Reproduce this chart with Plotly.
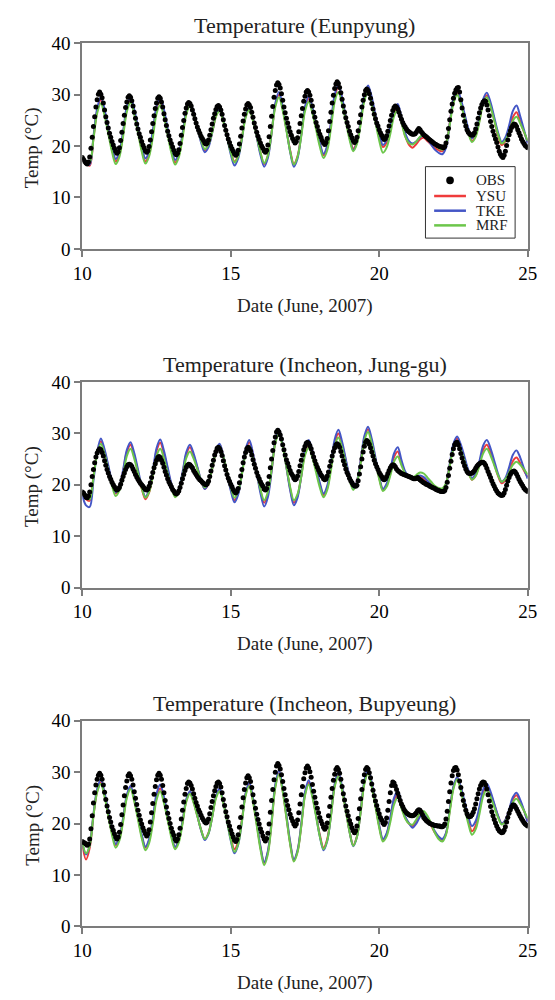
import numpy as np
import plotly.graph_objects as go

FONT = "Liberation Serif, Times New Roman, serif"

# ---------------------------------------------------------------------------
# Data: near-surface air temperature, 10-25 June 2007
# OBS  : hourly station observations (10 June 00h ... 25 June 00h)
# YSU / TKE / MRF : WRF PBL-scheme runs, 3-hourly output
# ---------------------------------------------------------------------------
stations = ["Eunpyung", "Incheon, Jung-gu", "Incheon, Bupyeung"]
schemes = ["YSU", "TKE", "MRF"]
x_ticks = [10, 15, 20, 25]
y_ticks = [0, 10, 20, 30, 40]

obs_eunpyung = [
    17.8, 17.4, 17.0, 16.7, 16.5, 16.9, 17.9, 19.6, 21.7, 23.8, 25.7, 27.6, 29.0, 30.1, 30.5, 30.1, 29.4, 28.4, 27.0, 25.7, 24.6, 23.5, 22.5, 21.7,
    20.9, 20.2, 19.6, 19.0, 18.6, 18.9, 19.7, 21.1, 22.7, 24.4, 26.0, 27.5, 28.6, 29.5, 29.8, 29.5, 28.8, 27.8, 26.6, 25.4, 24.3, 23.3, 22.4, 21.7,
    20.9, 20.2, 19.7, 19.1, 18.8, 19.1, 19.9, 21.2, 22.8, 24.4, 25.9, 27.3, 28.4, 29.3, 29.6, 29.3, 28.6, 27.6, 26.3, 25.1, 24.0, 22.9, 22.0, 21.2,
    20.5, 19.8, 19.2, 18.6, 18.3, 18.6, 19.3, 20.5, 22.1, 23.6, 25.0, 26.4, 27.4, 28.2, 28.5, 28.3, 27.8, 27.0, 26.2, 25.3, 24.5, 23.7, 23.1, 22.5,
    21.9, 21.5, 21.1, 20.6, 20.4, 20.6, 21.2, 22.1, 23.2, 24.3, 25.4, 26.3, 27.1, 27.7, 27.9, 27.6, 27.0, 26.2, 25.1, 24.0, 23.1, 22.2, 21.4, 20.7,
    20.0, 19.5, 19.0, 18.5, 18.2, 18.5, 19.2, 20.4, 21.9, 23.5, 24.9, 26.2, 27.2, 28.0, 28.3, 28.0, 27.5, 26.6, 25.6, 24.5, 23.6, 22.7, 21.9, 21.3,
    20.6, 20.0, 19.6, 19.1, 18.8, 19.2, 20.2, 21.8, 23.8, 25.8, 27.7, 29.5, 30.8, 31.9, 32.3, 32.0, 31.3, 30.2, 28.9, 27.6, 26.5, 25.4, 24.5, 23.6,
    22.8, 22.1, 21.5, 21.0, 20.6, 20.9, 21.6, 22.8, 24.4, 25.9, 27.3, 28.7, 29.7, 30.5, 30.8, 30.5, 29.9, 28.9, 27.8, 26.6, 25.6, 24.6, 23.8, 23.0,
    22.3, 21.7, 21.1, 20.6, 20.3, 20.7, 21.5, 23.0, 24.8, 26.6, 28.4, 29.9, 31.2, 32.1, 32.5, 32.2, 31.4, 30.4, 29.1, 27.8, 26.6, 25.5, 24.6, 23.8,
    22.9, 22.2, 21.6, 21.1, 20.7, 21.0, 21.7, 23.0, 24.6, 26.1, 27.6, 28.9, 30.0, 30.8, 31.1, 30.8, 30.2, 29.3, 28.3, 27.2, 26.2, 25.3, 24.5, 23.9,
    23.2, 22.6, 22.1, 21.6, 21.3, 21.5, 22.0, 22.9, 23.9, 25.0, 26.0, 26.9, 27.5, 27.8, 27.6, 27.2, 26.6, 25.9, 25.2, 24.6, 24.1, 23.7, 23.3, 23.0,
    22.8, 22.6, 22.4, 22.3, 22.3, 22.4, 22.7, 23.1, 23.4, 23.2, 22.8, 22.5, 22.2, 22.0, 21.8, 21.6, 21.4, 21.2, 21.0, 20.8, 20.6, 20.4, 20.3, 20.1,
    20.0, 19.9, 19.8, 19.8, 19.7, 19.9, 20.6, 21.8, 23.4, 25.1, 26.8, 28.2, 29.3, 30.3, 30.9, 31.3, 31.4, 30.5, 29.0, 27.4, 26.0, 24.8, 23.9, 23.2,
    22.7, 22.4, 22.2, 22.1, 22.2, 22.6, 23.3, 24.3, 25.4, 26.5, 27.4, 28.1, 28.6, 28.8, 28.7, 28.0, 27.0, 25.9, 24.8, 23.8, 22.9, 22.1, 21.4, 20.7,
    19.8, 19.0, 18.4, 18.0, 17.8, 18.2, 19.0, 20.1, 21.2, 22.2, 23.0, 23.6, 24.0, 24.3, 24.2, 23.8, 23.2, 22.6, 22.0, 21.4, 20.9, 20.5, 20.1, 19.9,
    19.7,
]

obs_junggu = [
    18.6, 18.4, 18.0, 17.6, 17.5, 17.8, 18.6, 20.0, 21.6, 23.0, 24.3, 25.4, 26.2, 26.7, 27.0, 26.8, 26.3, 25.6, 24.7, 23.8, 23.0, 22.3, 21.6, 21.1,
    20.5, 20.0, 19.6, 19.2, 19.0, 19.2, 19.5, 20.1, 20.9, 21.6, 22.3, 23.0, 23.5, 23.9, 24.0, 23.9, 23.6, 23.1, 22.6, 22.0, 21.5, 21.1, 20.7, 20.3,
    20.0, 19.7, 19.4, 19.1, 19.0, 19.2, 19.7, 20.4, 21.4, 22.4, 23.3, 24.1, 24.8, 25.3, 25.5, 25.3, 24.8, 24.2, 23.4, 22.6, 21.9, 21.2, 20.6, 20.1,
    19.6, 19.1, 18.8, 18.4, 18.2, 18.4, 18.8, 19.5, 20.3, 21.2, 22.0, 22.8, 23.4, 23.8, 24.0, 23.9, 23.6, 23.3, 22.8, 22.4, 22.0, 21.6, 21.3, 21.0,
    20.8, 20.5, 20.3, 20.1, 20.0, 20.2, 20.7, 21.6, 22.7, 23.8, 24.8, 25.8, 26.5, 27.1, 27.3, 27.0, 26.5, 25.7, 24.7, 23.7, 22.9, 22.0, 21.3, 20.7,
    20.1, 19.6, 19.1, 18.7, 18.4, 18.7, 19.3, 20.4, 21.7, 23.0, 24.3, 25.4, 26.3, 27.0, 27.3, 27.0, 26.6, 25.8, 24.9, 24.0, 23.2, 22.4, 21.7, 21.2,
    20.6, 20.1, 19.7, 19.2, 19.0, 19.3, 20.2, 21.6, 23.3, 25.0, 26.7, 28.2, 29.3, 30.3, 30.6, 30.3, 29.7, 28.9, 27.8, 26.8, 25.8, 24.9, 24.2, 23.5,
    22.8, 22.2, 21.8, 21.3, 21.0, 21.2, 21.7, 22.6, 23.7, 24.8, 25.8, 26.8, 27.5, 28.1, 28.3, 28.1, 27.6, 27.0, 26.2, 25.4, 24.7, 24.0, 23.4, 22.9,
    22.4, 21.9, 21.6, 21.2, 21.0, 21.2, 21.7, 22.5, 23.6, 24.6, 25.6, 26.5, 27.2, 27.8, 28.0, 27.8, 27.3, 26.5, 25.6, 24.7, 23.9, 23.1, 22.4, 21.9,
    21.3, 20.8, 20.4, 20.0, 19.8, 19.7, 19.9, 20.8, 22.1, 23.5, 25.0, 26.4, 27.5, 28.3, 28.6, 28.4, 27.9, 27.2, 26.4, 25.6, 24.8, 24.1, 23.5, 23.0,
    22.4, 22.0, 21.6, 21.2, 21.0, 21.2, 21.6, 22.2, 22.8, 23.3, 23.7, 23.9, 23.8, 23.5, 23.1, 22.8, 22.6, 22.4, 22.2, 22.1, 22.0, 21.9, 21.8, 21.7,
    21.6, 21.5, 21.4, 21.3, 21.2, 21.2, 21.3, 21.4, 21.2, 21.0, 20.8, 20.6, 20.4, 20.3, 20.1, 20.0, 19.9, 19.7, 19.6, 19.5, 19.4, 19.3, 19.1, 19.0,
    18.9, 18.8, 18.7, 18.7, 18.7, 18.9, 19.5, 20.5, 21.8, 23.2, 24.6, 25.9, 27.0, 27.8, 28.2, 28.3, 27.8, 27.0, 26.1, 25.2, 24.4, 23.7, 23.1, 22.6,
    22.3, 22.2, 22.2, 22.3, 22.5, 22.8, 23.2, 23.6, 23.9, 24.1, 24.3, 24.4, 24.4, 24.2, 23.8, 23.2, 22.6, 22.0, 21.4, 20.8, 20.2, 19.7, 19.2, 18.8,
    18.4, 18.2, 18.0, 17.9, 18.0, 18.4, 19.1, 19.9, 20.7, 21.4, 22.0, 22.4, 22.6, 22.7, 22.5, 22.1, 21.6, 21.1, 20.6, 20.2, 19.8, 19.4, 19.1, 18.9,
    18.7,
]

obs_bupyeung = [
    16.5, 16.3, 16.2, 16.0, 15.8, 16.0, 17.0, 19.0, 21.5, 24.0, 26.0, 27.5, 28.6, 29.4, 29.8, 29.4, 28.6, 27.5, 26.1, 24.7, 23.4, 22.3, 21.2, 20.3,
    19.4, 18.7, 18.0, 17.4, 17.0, 17.4, 18.3, 19.8, 21.7, 23.6, 25.4, 27.0, 28.3, 29.3, 29.7, 29.3, 28.6, 27.5, 26.2, 24.9, 23.7, 22.6, 21.6, 20.7,
    19.9, 19.2, 18.6, 18.0, 17.6, 18.0, 18.8, 20.3, 22.1, 23.9, 25.7, 27.2, 28.5, 29.4, 29.8, 29.4, 28.6, 27.4, 26.0, 24.5, 23.2, 22.0, 21.0, 20.0,
    19.1, 18.3, 17.7, 17.0, 16.6, 17.0, 17.8, 19.1, 20.9, 22.6, 24.2, 25.7, 26.8, 27.8, 28.1, 27.9, 27.4, 26.7, 25.8, 24.9, 24.1, 23.4, 22.7, 22.2,
    21.6, 21.1, 20.7, 20.3, 20.1, 20.3, 20.9, 21.9, 23.1, 24.3, 25.4, 26.4, 27.2, 27.9, 28.1, 27.8, 27.1, 26.0, 24.7, 23.5, 22.3, 21.3, 20.3, 19.5,
    18.7, 18.0, 17.4, 16.8, 16.5, 16.9, 17.8, 19.3, 21.2, 23.2, 25.0, 26.6, 27.9, 28.9, 29.3, 28.9, 28.2, 27.0, 25.6, 24.2, 23.0, 21.8, 20.8, 19.9,
    19.0, 18.3, 17.6, 17.0, 16.6, 17.1, 18.1, 19.9, 22.2, 24.5, 26.6, 28.5, 30.0, 31.2, 31.7, 31.3, 30.6, 29.5, 28.2, 26.8, 25.6, 24.5, 23.5, 22.7,
    21.8, 21.1, 20.5, 19.9, 19.5, 19.9, 20.7, 22.1, 23.8, 25.6, 27.2, 28.7, 29.9, 30.8, 31.2, 30.8, 30.1, 29.0, 27.6, 26.3, 25.1, 24.0, 23.0, 22.1,
    21.2, 20.5, 19.9, 19.3, 18.9, 19.3, 20.1, 21.5, 23.3, 25.1, 26.8, 28.4, 29.6, 30.5, 30.9, 30.5, 29.8, 28.6, 27.2, 25.8, 24.6, 23.4, 22.4, 21.5,
    20.6, 19.9, 19.2, 18.6, 18.2, 18.6, 19.5, 21.0, 22.9, 24.8, 26.6, 28.2, 29.5, 30.5, 30.9, 30.6, 29.9, 28.9, 27.7, 26.5, 25.4, 24.4, 23.5, 22.7,
    21.9, 21.2, 20.7, 20.1, 19.8, 20.2, 21.1, 22.6, 24.3, 26.0, 27.4, 28.1, 27.9, 27.3, 26.6, 25.9, 25.2, 24.5, 23.8, 23.3, 22.8, 22.4, 22.1, 21.9,
    21.7, 21.6, 21.5, 21.5, 21.6, 21.8, 22.1, 22.5, 22.7, 22.6, 22.2, 21.7, 21.2, 20.9, 20.6, 20.4, 20.2, 20.0, 19.9, 19.8, 19.7, 19.6, 19.6, 19.5,
    19.5, 19.5, 19.4, 19.4, 19.5, 19.9, 20.9, 22.4, 24.3, 26.2, 27.9, 29.3, 30.3, 30.8, 30.9, 30.4, 29.5, 28.3, 27.0, 25.7, 24.5, 23.5, 22.6, 21.9,
    21.4, 21.3, 21.4, 21.7, 22.2, 22.9, 23.8, 24.8, 25.8, 26.7, 27.4, 27.9, 28.1, 28.0, 27.5, 26.7, 25.6, 24.4, 23.3, 22.3, 21.5, 20.8, 20.1, 19.5,
    19.0, 18.6, 18.4, 18.2, 18.3, 18.7, 19.4, 20.3, 21.2, 22.0, 22.7, 23.2, 23.6, 23.6, 23.3, 22.9, 22.4, 21.9, 21.4, 21.0, 20.6, 20.2, 19.9, 19.7,
    19.5,
]

# model output, one row per day: 00, 03, 06, 09, 12, 15, 18, 21 h
ysu_eunpyung = [
    17.5, 16.6, 16.2, 21.5, 26.8, 29.0, 26.6, 23.0,
    19.4, 17.0, 18.4, 22.4, 27.2, 29.0, 26.6, 23.0,
    19.4, 17.0, 18.4, 22.4, 27.2, 29.0, 26.6, 22.9,
    19.2, 16.8, 18.2, 22.0, 26.6, 28.3, 26.5, 23.8,
    21.0, 19.2, 20.1, 22.7, 25.8, 27.0, 25.0, 22.0,
    19.0, 17.0, 18.2, 21.6, 25.8, 27.3, 25.1, 21.9,
    18.7, 16.5, 18.1, 22.6, 28.0, 30.0, 27.3, 23.3,
    19.2, 16.5, 18.0, 22.3, 27.4, 29.3, 27.1, 23.8,
    20.4, 18.2, 19.8, 24.2, 29.5, 31.5, 29.1, 25.5,
    21.9, 19.5, 20.9, 24.8, 29.5, 31.3, 29.0, 25.6,
    22.1, 19.8, 20.7, 23.4, 26.5, 27.7, 25.0, 22.0,
    20.3, 19.7, 20.4, 21.3, 21.6, 21.0, 20.3, 19.6,
    19.2, 19.0, 20.2, 24.4, 28.9, 30.5, 28.6, 25.8,
    22.9, 21.0, 22.1, 25.0, 28.6, 29.9, 28.0, 25.1,
    22.1, 20.2, 21.0, 23.1, 25.6, 26.6, 24.8, 22.8,
    20.8,
]
tke_eunpyung = [
    17.6, 16.8, 16.4, 21.8, 27.3, 29.5, 27.1, 23.5,
    19.9, 17.5, 18.9, 22.9, 27.7, 29.5, 27.1, 23.6,
    20.0, 17.6, 19.0, 23.0, 27.7, 29.5, 27.1, 23.4,
    19.7, 17.3, 18.6, 22.3, 26.8, 28.5, 26.6, 23.7,
    20.7, 18.8, 19.8, 22.6, 26.0, 27.3, 25.1, 21.8,
    18.4, 16.2, 17.6, 21.3, 25.8, 27.5, 25.2, 21.8,
    18.3, 16.0, 17.7, 22.5, 28.3, 30.5, 27.6, 23.3,
    18.9, 16.0, 17.6, 22.2, 27.6, 29.7, 27.5, 24.1,
    20.7, 18.5, 20.1, 24.6, 30.0, 32.0, 29.4, 25.6,
    21.8, 19.2, 20.7, 24.9, 29.9, 31.8, 29.5, 26.0,
    22.5, 20.2, 21.2, 23.8, 27.0, 28.2, 25.5, 22.6,
    21.0, 20.5, 20.9, 21.7, 22.0, 21.3, 20.3, 19.3,
    18.7, 18.4, 19.7, 24.3, 29.2, 31.0, 29.1, 26.3,
    23.4, 21.5, 22.6, 25.5, 29.1, 30.4, 28.5, 25.6,
    22.7, 20.8, 21.7, 24.0, 26.8, 27.9, 25.8, 23.2,
    20.5,
]
mrf_eunpyung = [
    17.7, 17.1, 16.8, 21.3, 26.4, 28.3, 25.9, 22.4,
    18.9, 16.5, 17.9, 21.9, 26.7, 28.5, 26.1, 22.6,
    19.0, 16.6, 18.0, 21.7, 26.3, 28.0, 25.7, 22.2,
    18.7, 16.4, 17.8, 21.5, 26.1, 27.8, 26.1, 23.6,
    21.1, 19.4, 20.3, 22.7, 25.7, 26.8, 24.8, 21.8,
    18.8, 16.8, 18.0, 21.4, 25.5, 27.0, 24.9, 21.9,
    18.8, 16.7, 18.2, 22.5, 27.6, 29.5, 26.9, 23.0,
    19.0, 16.4, 17.9, 21.9, 26.8, 28.6, 26.4, 23.2,
    19.9, 17.7, 19.2, 23.5, 28.6, 30.5, 28.2, 24.8,
    21.3, 19.0, 20.4, 24.2, 28.8, 30.5, 28.1, 24.6,
    21.1, 18.7, 19.7, 22.4, 25.8, 27.0, 24.6, 21.9,
    20.6, 20.3, 20.9, 21.8, 22.3, 21.8, 21.0, 20.2,
    19.6, 19.3, 20.3, 24.1, 28.3, 30.0, 28.2, 25.4,
    22.6, 20.8, 21.8, 24.7, 28.2, 29.5, 27.7, 25.0,
    22.3, 20.5, 21.1, 22.8, 24.9, 25.7, 24.4, 22.8,
    21.0,
]

ysu_junggu = [
    18.3, 17.2, 16.9, 21.6, 26.3, 28.5, 26.5, 23.4,
    20.3, 18.3, 19.4, 22.6, 26.4, 27.8, 25.7, 22.5,
    19.3, 17.2, 18.5, 22.2, 26.6, 28.2, 26.1, 23.0,
    19.9, 17.8, 18.9, 22.1, 25.9, 27.3, 25.7, 23.3,
    20.8, 19.2, 20.2, 23.1, 26.5, 27.8, 25.6, 22.4,
    19.2, 17.0, 18.4, 22.1, 26.6, 28.3, 25.9, 22.4,
    18.9, 16.5, 18.2, 22.8, 28.4, 30.5, 27.7, 23.5,
    19.3, 16.5, 17.9, 21.7, 26.3, 28.0, 26.0, 23.0,
    20.0, 18.0, 19.4, 23.4, 28.2, 30.0, 27.9, 24.7,
    21.4, 19.3, 20.7, 24.5, 29.1, 30.8, 28.4, 24.9,
    21.4, 19.0, 19.9, 22.4, 25.4, 26.5, 24.3, 22.3,
    21.5, 21.2, 21.4, 21.5, 21.2, 20.7, 20.1, 19.5,
    19.1, 19.0, 20.2, 23.8, 27.6, 29.0, 27.4, 25.0,
    22.6, 21.0, 21.8, 24.1, 26.8, 27.8, 26.3, 24.1,
    21.8, 20.3, 20.9, 22.6, 24.6, 25.3, 24.2, 22.8,
    21.5,
]
tke_junggu = [
    18.0, 16.0, 15.7, 20.8, 26.3, 29.0, 26.9, 23.8,
    20.6, 18.5, 19.7, 22.9, 26.8, 28.3, 26.2, 23.0,
    19.8, 17.7, 19.0, 22.7, 27.1, 28.8, 26.6, 23.4,
    20.2, 18.0, 19.2, 22.4, 26.3, 27.8, 26.1, 23.5,
    20.9, 19.2, 20.3, 23.2, 26.7, 28.0, 25.7, 22.3,
    18.9, 16.6, 18.1, 22.1, 26.9, 28.7, 26.1, 22.3,
    18.4, 15.8, 17.6, 22.6, 28.6, 30.8, 27.8, 23.4,
    19.0, 16.0, 17.5, 21.7, 26.8, 28.7, 26.6, 23.5,
    20.4, 18.3, 19.8, 23.9, 28.8, 30.7, 28.4, 25.0,
    21.6, 19.3, 20.7, 24.7, 29.5, 31.3, 28.9, 25.3,
    21.6, 19.2, 20.2, 22.9, 26.1, 27.3, 24.8, 22.6,
    21.6, 21.3, 21.5, 21.8, 21.5, 20.8, 20.0, 19.3,
    18.9, 18.8, 20.0, 24.0, 28.0, 29.4, 27.8, 25.4,
    22.9, 21.3, 22.2, 24.6, 27.6, 28.7, 27.1, 24.7,
    22.2, 20.6, 21.3, 23.4, 25.8, 26.7, 25.3, 23.2,
    21.2,
]
mrf_junggu = [
    18.4, 17.5, 17.2, 21.4, 26.0, 28.0, 26.0, 22.9,
    19.8, 17.8, 18.9, 21.9, 25.6, 27.0, 25.1, 22.3,
    19.4, 17.5, 18.6, 21.8, 25.6, 27.0, 25.1, 22.3,
    19.5, 17.6, 18.7, 21.6, 25.2, 26.5, 25.1, 23.0,
    20.9, 19.5, 20.5, 23.1, 26.3, 27.5, 25.5, 22.5,
    19.5, 17.5, 18.7, 22.0, 26.0, 27.5, 25.4, 22.3,
    19.1, 17.0, 18.6, 22.9, 28.1, 30.0, 27.4, 23.5,
    19.6, 17.0, 18.2, 21.6, 25.7, 27.2, 25.3, 22.4,
    19.5, 17.6, 19.0, 22.8, 27.5, 29.2, 27.2, 24.1,
    21.0, 19.0, 20.4, 24.1, 28.6, 30.3, 28.0, 24.6,
    21.1, 18.8, 19.6, 21.8, 24.5, 25.5, 23.8, 22.2,
    21.5, 21.4, 21.9, 22.4, 22.2, 21.4, 20.6, 19.8,
    19.4, 19.3, 20.3, 23.6, 27.0, 28.2, 26.8, 24.6,
    22.4, 21.0, 21.7, 23.7, 26.1, 27.0, 25.7, 23.8,
    21.9, 20.6, 21.1, 22.4, 23.9, 24.5, 23.9, 23.0,
    22.0,
]

ysu_bupyeung = [
    15.8, 13.0, 15.3, 21.5, 26.3, 28.0, 25.6, 21.9,
    18.2, 15.8, 17.1, 20.8, 25.3, 27.0, 24.7, 21.2,
    17.6, 15.3, 16.7, 20.5, 25.1, 26.8, 24.5, 21.1,
    17.7, 15.4, 16.7, 20.2, 24.4, 26.0, 24.2, 21.5,
    18.8, 17.0, 18.2, 21.3, 25.2, 26.6, 24.3, 20.8,
    17.3, 15.0, 16.5, 20.7, 25.7, 27.6, 24.5, 20.0,
    15.4, 12.3, 14.4, 20.2, 27.2, 29.8, 26.4, 21.3,
    16.2, 12.8, 14.6, 19.6, 25.7, 28.0, 25.5, 21.7,
    17.8, 15.3, 17.0, 21.7, 27.4, 29.5, 26.8, 22.7,
    18.5, 15.8, 17.5, 22.3, 28.0, 30.2, 27.5, 23.5,
    19.5, 16.8, 17.9, 20.9, 24.5, 25.8, 23.5, 21.2,
    20.0, 19.5, 20.3, 21.4, 21.7, 20.8, 19.6, 18.2,
    17.3, 16.8, 18.0, 22.5, 27.0, 28.8, 26.7, 23.7,
    20.6, 18.5, 19.6, 22.5, 26.0, 27.3, 25.8, 23.7,
    21.5, 20.0, 20.7, 22.5, 24.7, 25.5, 24.2, 22.5,
    20.5,
]
tke_bupyeung = [
    16.2, 14.0, 15.8, 21.8, 26.7, 28.5, 26.0, 22.3,
    18.5, 16.0, 17.4, 21.1, 25.6, 27.3, 24.9, 21.4,
    17.9, 15.5, 17.0, 21.0, 25.8, 27.6, 25.2, 21.6,
    17.9, 15.5, 16.8, 20.4, 24.7, 26.3, 24.4, 21.6,
    18.7, 16.8, 18.0, 21.3, 25.3, 26.8, 24.3, 20.5,
    16.7, 14.2, 15.9, 20.4, 25.9, 28.0, 24.9, 20.3,
    15.6, 12.5, 14.6, 20.5, 27.6, 30.3, 26.8, 21.7,
    16.5, 13.0, 14.8, 19.9, 26.1, 28.4, 25.7, 21.6,
    17.5, 14.8, 16.6, 21.6, 27.7, 30.0, 27.1, 22.8,
    18.5, 15.6, 17.4, 22.4, 28.4, 30.6, 27.9, 23.8,
    19.7, 17.0, 18.1, 21.2, 25.0, 26.4, 23.9, 21.4,
    20.1, 19.2, 20.0, 21.3, 21.8, 21.1, 19.9, 18.5,
    17.5, 17.0, 18.2, 22.7, 27.2, 29.0, 27.1, 24.3,
    21.4, 19.5, 20.5, 23.2, 26.6, 27.8, 26.2, 23.9,
    21.6, 20.0, 20.7, 22.7, 25.1, 26.0, 24.6, 22.6,
    20.3,
]
mrf_bupyeung = [
    16.4, 14.2, 15.7, 21.4, 26.1, 27.7, 25.2, 21.5,
    17.8, 15.3, 16.7, 20.4, 25.0, 26.7, 24.3, 20.8,
    17.2, 14.8, 16.2, 20.0, 24.6, 26.3, 24.0, 20.7,
    17.3, 15.0, 16.3, 19.9, 24.2, 25.8, 24.0, 21.4,
    18.8, 17.0, 18.1, 21.2, 24.9, 26.3, 24.0, 20.4,
    16.9, 14.5, 16.0, 20.3, 25.4, 27.3, 24.2, 19.6,
    15.0, 11.9, 14.0, 19.9, 27.0, 29.6, 26.2, 21.1,
    16.0, 12.6, 14.4, 19.4, 25.4, 27.6, 25.1, 21.3,
    17.5, 15.0, 16.7, 21.4, 27.1, 29.2, 26.5, 22.5,
    18.4, 15.7, 17.4, 22.1, 27.7, 29.8, 27.1, 23.2,
    19.2, 16.5, 17.5, 20.3, 23.7, 25.0, 23.0, 21.0,
    20.0, 19.8, 20.8, 22.0, 22.4, 21.5, 20.0, 18.2,
    17.0, 16.5, 17.8, 22.2, 26.7, 28.6, 26.4, 23.2,
    20.0, 17.8, 18.9, 21.8, 25.3, 26.6, 25.2, 23.2,
    21.2, 19.8, 20.4, 22.1, 24.1, 24.8, 23.8, 22.5,
    21.0,
]

obs_series = [obs_eunpyung, obs_junggu, obs_bupyeung]
model_series = [
    {"YSU": ysu_eunpyung, "TKE": tke_eunpyung, "MRF": mrf_eunpyung},
    {"YSU": ysu_junggu, "TKE": tke_junggu, "MRF": mrf_junggu},
    {"YSU": ysu_bupyeung, "TKE": tke_bupyeung, "MRF": mrf_bupyeung},
]

# time axis in days of June
obs_days = 10 + np.arange(len(obs_eunpyung)) / 24.0
model_days = 10 + np.arange(len(ysu_eunpyung)) * 3 / 24.0

# ---------------------------------------------------------------------------
# Styling / layout
# ---------------------------------------------------------------------------
W, H = 555, 1000
scheme_colors = {"YSU": "#ef3b3b", "TKE": "#4456c6", "MRF": "#6cc64a"}
frame_color = "#7c7c7c"

plot_left, plot_right = 75, 537
panel_tops = [34, 380, 726]
panel_height = 210


def px_x(x):
    return x / W


def px_y(y):
    return 1 - y / H


fig = go.Figure()
annotations = []

for i, station in enumerate(stations):
    n = "" if i == 0 else str(i + 1)
    xref, yref = "x" + n, "y" + n

    for name in schemes:
        fig.add_trace(go.Scatter(
            x=model_days, y=model_series[i][name],
            mode="lines", name=name,
            line=dict(color=scheme_colors[name], width=2, shape="spline", smoothing=0.9),
            xaxis=xref, yaxis=yref, showlegend=False,
        ))
    fig.add_trace(go.Scatter(
        x=obs_days, y=obs_series[i],
        mode="markers", name="OBS",
        marker=dict(color="black", size=5),
        xaxis=xref, yaxis=yref, showlegend=False,
    ))

    top = panel_tops[i]
    bottom = top + panel_height
    axis_style = dict(
        showline=True, linecolor=frame_color, linewidth=2, mirror=True,
        ticks="outside", ticklen=6, tickwidth=2, tickcolor=frame_color,
        showgrid=False, zeroline=False,
        tickfont=dict(family=FONT, size=19, color="black"),
    )
    fig.update_layout({
        "xaxis" + n: dict(
            domain=[px_x(plot_left), px_x(plot_right)], range=[10, 25],
            tickvals=x_ticks, anchor=yref, **axis_style,
        ),
        "yaxis" + n: dict(
            domain=[px_y(bottom), px_y(top)], range=[0, 40],
            tickvals=y_ticks, anchor=xref, **axis_style,
        ),
    })

    # panel title, axis titles
    annotations.append(dict(
        text=f"Temperature ({station})", x=px_x((plot_left + plot_right) / 2), y=px_y(top - 18),
        xref="paper", yref="paper", xanchor="center", yanchor="middle", showarrow=False,
        font=dict(family=FONT, size=22, color="#222"),
    ))
    annotations.append(dict(
        text="Date (June, 2007)", x=px_x((plot_left + plot_right) / 2), y=px_y(bottom + 58),
        xref="paper", yref="paper", xanchor="center", yanchor="middle", showarrow=False,
        font=dict(family=FONT, size=19, color="#222"),
    ))
    annotations.append(dict(
        text="Temp (°C)", x=px_x(23), y=px_y(top + 107), textangle=-90,
        xref="paper", yref="paper", xanchor="center", yanchor="middle", showarrow=False,
        font=dict(family=FONT, size=19, color="#222"),
    ))

# legend box inside the first panel
shapes = [dict(
    type="rect", xref="paper", yref="paper",
    x0=px_x(431), x1=px_x(524), y0=px_y(233), y1=px_y(160),
    line=dict(color="#333", width=1), fillcolor="white", layer="above",
)]
legend_rows = [("OBS", 174), ("YSU", 190), ("TKE", 205), ("MRF", 220)]
for label, ry in legend_rows:
    if label == "OBS":
        shapes.append(dict(
            type="circle", xref="paper", yref="paper",
            x0=px_x(452.5), x1=px_x(460.5), y0=px_y(ry + 4), y1=px_y(ry - 4),
            line=dict(color="black", width=0), fillcolor="black", layer="above",
        ))
    else:
        shapes.append(dict(
            type="line", xref="paper", yref="paper",
            x0=px_x(440), x1=px_x(473), y0=px_y(ry), y1=px_y(ry),
            line=dict(color=scheme_colors[label], width=2.5), layer="above",
        ))
    annotations.append(dict(
        text=label, x=px_x(481), y=px_y(ry), xref="paper", yref="paper",
        xanchor="left", yanchor="middle", showarrow=False,
        font=dict(family=FONT, size=15, color="#222"),
    ))

fig.update_layout(
    width=W, height=H, autosize=False,
    margin=dict(l=0, r=0, t=0, b=0),
    paper_bgcolor="white", plot_bgcolor="white",
    showlegend=False,
    annotations=annotations, shapes=shapes,
    font=dict(family=FONT, color="black"),
)

fig.write_html("out.html")
